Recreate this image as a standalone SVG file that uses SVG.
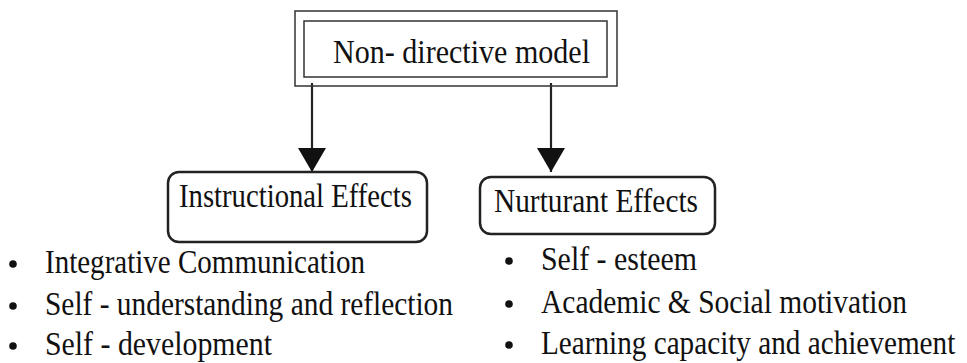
<svg xmlns="http://www.w3.org/2000/svg" width="967" height="363" viewBox="0 0 967 363">
<style>
text{font-family:"Liberation Serif","Times New Roman",serif;font-size:33px;fill:#111}
.frame{fill:none;stroke:#333;stroke-width:1.5}
.rbox{fill:#fff;stroke:#222;stroke-width:2.5}
.conn{stroke:#222;stroke-width:2.2;fill:none}
.dot{fill:#111}
</style>
<defs>
<marker id="ah" markerUnits="userSpaceOnUse" markerWidth="26" markerHeight="28" refX="24" refY="14" orient="auto">
<path d="M0,0 L24,14 L0,28 z" fill="#111"/>
</marker>
</defs>
<rect width="967" height="363" fill="#fff"/>
<g id="connectors">
<line class="conn" x1="312" y1="83" x2="312" y2="172" marker-end="url(#ah)"/>
<line class="conn" x1="551" y1="83" x2="551" y2="172" marker-end="url(#ah)"/>
</g>
<g id="node-nondirective">
<rect class="frame" x="295" y="11" width="322" height="75"/>
<rect class="frame" x="304" y="21" width="303" height="56"/>
<text x="333" y="63" textLength="257" lengthAdjust="spacingAndGlyphs">Non- directive model</text>
</g>
<g id="node-instructional">
<rect class="rbox" x="168" y="172" width="259" height="70" rx="11"/>
<text x="179" y="207" textLength="233" lengthAdjust="spacingAndGlyphs">Instructional Effects</text>
</g>
<g id="node-nurturant">
<rect class="rbox" x="480" y="177" width="235" height="57" rx="11"/>
<text x="494" y="212" textLength="204" lengthAdjust="spacingAndGlyphs">Nurturant Effects</text>
</g>
<g id="list-instructional">
<circle class="dot" cx="13" cy="264" r="3.8"/>
<text x="45" y="273" textLength="320" lengthAdjust="spacingAndGlyphs">Integrative Communication</text>
<circle class="dot" cx="13" cy="306" r="3.8"/>
<text x="45" y="315" textLength="408" lengthAdjust="spacingAndGlyphs">Self - understanding and reflection</text>
<circle class="dot" cx="13" cy="346" r="3.8"/>
<text x="45" y="355" textLength="227" lengthAdjust="spacingAndGlyphs">Self - development</text>
</g>
<g id="list-nurturant">
<circle class="dot" cx="509" cy="261" r="3.8"/>
<text x="541" y="270" textLength="156" lengthAdjust="spacingAndGlyphs">Self - esteem</text>
<circle class="dot" cx="509" cy="304" r="3.8"/>
<text x="541" y="313" textLength="366" lengthAdjust="spacingAndGlyphs">Academic &amp; Social motivation</text>
<circle class="dot" cx="509" cy="345" r="3.8"/>
<text x="0" y="0" transform="translate(541,354) scale(0.885,1)">Learning capacity and achievement</text>
</g>
</svg>
